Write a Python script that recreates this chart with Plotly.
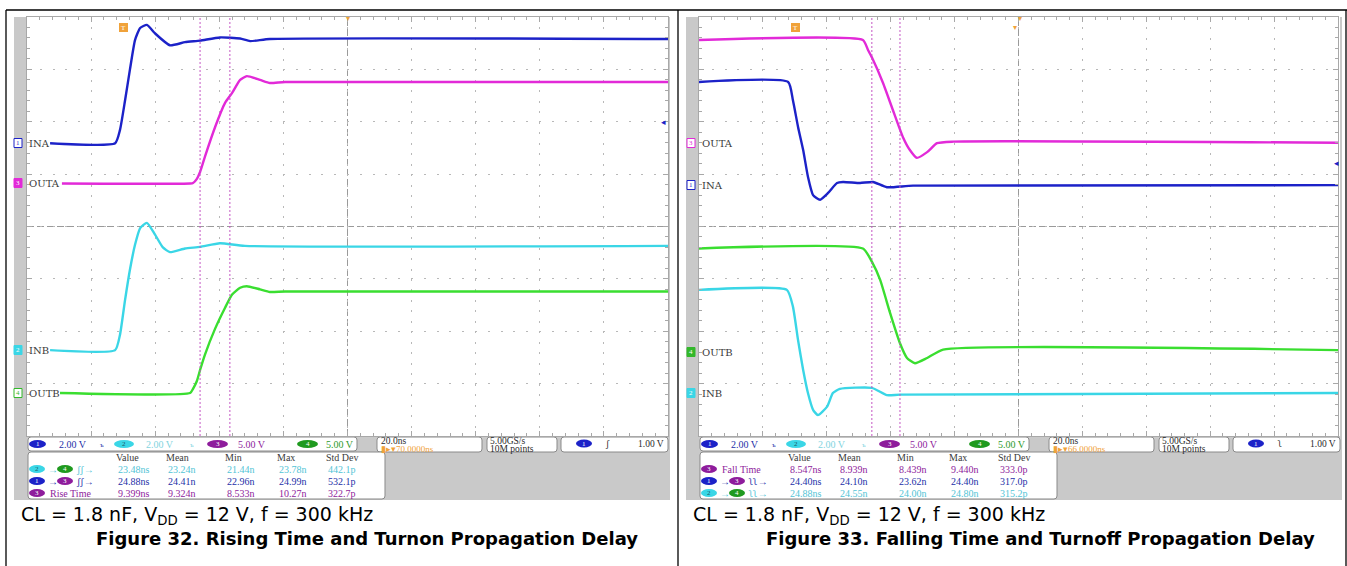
import plotly.graph_objects as go

W, H = 1347, 566

# ---------------------------------------------------------------------------
# Waveforms.
# time in ns relative to screen centre (20 ns/div), level in divisions
# ---------------------------------------------------------------------------
# Figure 32 - turn-on
F32_INA_T = [-92.8, -72.5, -71.0, -69.4, -67.9, -66.3, -64.7, -62.6, -60.1, -55.4, -50.7, -46.0, -39.8, -33.5, -30.4, -24.2, 100]
F32_INA_V = [1.59, 1.59, 1.84, 2.41, 2.99, 3.56, 3.79, 3.85, 3.69, 3.46, 3.52, 3.55, 3.61, 3.59, 3.54, 3.58, 3.58]

F32_OUTA_T = [-89.1, -49.1, -48.2, -47.0, -46.0, -44.5, -41.3, -38.2, -36.0, -33.5, -31.4, -27.3, -24.2, -19.5, 100]
F32_OUTA_V = [0.82, 0.82, 0.83, 0.91, 1.04, 1.33, 1.90, 2.36, 2.55, 2.80, 2.87, 2.80, 2.74, 2.76, 2.76]

F32_INB_T = [-92.8, -72.5, -71.0, -69.4, -67.9, -66.3, -64.7, -62.6, -60.1, -57.6, -55.4, -50.7, -46.0, -39.8, -32.0, 100]
F32_INB_V = [-2.36, -2.36, -2.07, -1.40, -0.83, -0.35, -0.03, 0.07, -0.15, -0.40, -0.49, -0.42, -0.39, -0.32, -0.37, -0.37]

F32_OUTB_T = [-89.7, -49.1, -48.2, -47.0, -46.0, -44.5, -41.3, -38.2, -36.0, -33.5, -31.4, -27.3, -24.2, -19.5, 100]
F32_OUTB_V = [-3.18, -3.18, -3.10, -2.95, -2.74, -2.45, -1.95, -1.55, -1.30, -1.17, -1.14, -1.20, -1.25, -1.24, -1.24]

F32_CURSORS = [-46.0, -36.7]

# Figure 33 - turn-off
F33_OUTA_T = [-100, -48.7, -47.1, -45.9, -42.4, -39.3, -36.2, -34.0, -31.8, -28.6, -25.5, -20.5, 100]
F33_OUTA_V = [3.56, 3.56, 3.37, 3.23, 2.74, 2.22, 1.71, 1.46, 1.31, 1.42, 1.59, 1.62, 1.60]

F33_INA_T = [-100, -72.1, -70.6, -69.0, -67.4, -65.9, -64.3, -62.1, -59.6, -56.8, -54.9, -49.6, -45.5, -41.2, -33.0, 100]
F33_INA_V = [2.76, 2.76, 2.41, 1.90, 1.46, 0.95, 0.60, 0.51, 0.64, 0.83, 0.85, 0.83, 0.85, 0.75, 0.78, 0.79]

F33_OUTB_T = [-100, -48.7, -45.9, -43.3, -40.2, -37.1, -34.9, -32.4, -28.6, -23.6, 100]
F33_OUTB_V = [-0.42, -0.42, -0.67, -1.02, -1.65, -2.23, -2.51, -2.61, -2.51, -2.35, -2.36]

F33_INB_T = [-100, -72.5, -70.6, -69.0, -67.4, -65.9, -64.3, -62.8, -59.9, -58.1, -55.9, -45.9, -41.2, -37.1, 100]
F33_INB_V = [-1.21, -1.21, -1.53, -2.17, -2.74, -3.18, -3.50, -3.60, -3.44, -3.18, -3.10, -3.08, -3.22, -3.21, -3.18]

F33_CURSORS = [-45.9, -37.1]

# measurement tables
TABLE_HEAD = ["Value", "Mean", "Min", "Max", "Std Dev"]
F32_ROWS = [
    ["23.48ns", "23.24n", "21.44n", "23.78n", "442.1p"],
    ["24.88ns", "24.41n", "22.96n", "24.99n", "532.1p"],
    ["9.399ns", "9.324n", "8.533n", "10.27n", "322.7p"],
]
F33_ROWS = [
    ["8.547ns", "8.939n", "8.439n", "9.440n", "333.0p"],
    ["24.40ns", "24.10n", "23.62n", "24.40n", "317.0p"],
    ["24.88ns", "24.55n", "24.00n", "24.80n", "315.2p"],
]

# colours
C_BLUE = "#1c22c8"
C_MAG = "#e22ad8"
C_CYAN = "#3ad6e6"
C_GREEN = "#3ade30"
C_PURPLE = "#8e1c9c"
C_TBLUE = "#2430a8"
C_TCYAN = "#52c4d6"
C_TGREEN = "#2c9a2c"
C_ORANGE = "#f0a23a"
C_GRAY = "#c9c9c9"

SCOPE_FONT = "Liberation Serif, serif"
LABEL_FONT = "DejaVu Serif, serif"
CAP_FONT = "DejaVu Sans, sans-serif"

shapes = []
annotations = []


def px(x):
    return x / W


def py(y):
    return 1 - y / H


def txt(x, y, s, size=9, color="#3a3a3a", family=SCOPE_FONT, anchor="left"):
    annotations.append(dict(
        x=px(x), y=py(y), xref="paper", yref="paper", text=s, showarrow=False,
        xanchor=anchor, yanchor="middle", borderpad=0,
        font=dict(size=size, color=color, family=family),
    ))


def rect(x0, y0, x1, y1, fill, line=None, layer="below"):
    shapes.append(dict(
        type="rect", xref="paper", yref="paper",
        x0=px(x0), x1=px(x1), y0=py(y1), y1=py(y0),
        fillcolor=fill, line=dict(color=line or fill, width=1 if line else 0), layer=layer,
    ))


def rbox(x0, y0, x1, y1, r=3, fill="white", line="#8a8a8a"):
    def p(x, y):
        return f"{px(x):.6f},{py(y):.6f}"
    path = (f"M{p(x0 + r, y0)} L{p(x1 - r, y0)} Q{p(x1, y0)} {p(x1, y0 + r)} "
            f"L{p(x1, y1 - r)} Q{p(x1, y1)} {p(x1 - r, y1)} L{p(x0 + r, y1)} "
            f"Q{p(x0, y1)} {p(x0, y1 - r)} L{p(x0, y0 + r)} Q{p(x0, y0)} {p(x0 + r, y0)} Z")
    shapes.append(dict(type="path", xref="paper", yref="paper", path=path,
                       fillcolor=fill, line=dict(color=line, width=1), layer="below"))


def oval(x0, x1, yc, fill, label, h=8, lcolor="white"):
    shapes.append(dict(type="circle", xref="paper", yref="paper",
                       x0=px(x0), x1=px(x1), y0=py(yc + h / 2), y1=py(yc - h / 2),
                       fillcolor=fill, line=dict(width=0), layer="above"))
    txt((x0 + x1) / 2, yc, label, 7, lcolor, anchor="center")


def hline(x0, x1, y, color="black", width=1.3):
    shapes.append(dict(type="line", xref="paper", yref="paper", x0=px(x0), x1=px(x1),
                       y0=py(y), y1=py(y), line=dict(color=color, width=width)))


def vline(x, y0, y1, color="black", width=1.3):
    shapes.append(dict(type="line", xref="paper", yref="paper", x0=px(x), x1=px(x),
                       y0=py(y0), y1=py(y1), line=dict(color=color, width=width)))


def ch_label(x, y, num, name, color, filled):
    rect(x, y - 4.5, x + 8, y + 4.5, color if filled else "white", color, layer="above")
    txt(x + 4, y, num, 7, "white" if filled else color, anchor="center")
    txt(x + 14, y, name, 10, "#3a3a3a", LABEL_FONT)


def chrome(ox, rows, row_icons, row_colors, delay, trig_sym, cap_fig, cap_x):
    # scope frame
    rect(ox + 14, 17, ox + 670, 500, C_GRAY)
    rect(ox + 27, 17, ox + 668, 436, "white")
    # channel row
    rbox(ox + 28, 437, ox + 357, 451)
    oval(ox + 29, ox + 46, 444, C_BLUE, "1")
    txt(ox + 58, 444, "2.00 V", 10, C_TBLUE)
    txt(ox + 99, 445, "ъ", 7, C_TBLUE)
    oval(ox + 114, ox + 134, 444, C_CYAN, "2", lcolor="#1a5c66")
    txt(ox + 145, 444, "2.00 V", 10, "#7fd4e0")
    txt(ox + 189, 445, "ъ", 7, "#7fd4e0")
    oval(ox + 207, ox + 228, 444, C_PURPLE, "3")
    txt(ox + 237, 444, "5.00 V", 10, C_PURPLE)
    oval(ox + 297, ox + 318, 444, "#1f9a1f", "4")
    txt(ox + 325, 444, "5.00 V", 10, C_TGREEN)
    # timebase / acquisition / trigger boxes
    rbox(ox + 377, 437, ox + 482, 452)
    txt(ox + 380, 441, "20.0ns", 9.5, "#2a2a2a")
    txt(ox + 380, 449, "▮▸▾" + delay, 9, C_ORANGE)
    rbox(ox + 487, 437, ox + 557, 452)
    txt(ox + 489, 441, "5.00GS/s", 9.5, "#2a2a2a")
    txt(ox + 489, 449, "10M points", 9.5, "#2a2a2a")
    rbox(ox + 561, 437, ox + 668, 452)
    oval(ox + 576, ox + 592, 443.5, C_BLUE, "1")
    txt(ox + 604, 444, trig_sym, 9.5, "#2a2a2a")
    txt(ox + 665, 444, "1.00 V", 9.5, "#2a2a2a", anchor="right")
    # measurement table
    rbox(ox + 28, 452, ox + 385, 499)
    cols = [115, 165, 224, 276, 325]
    for c, head in zip(cols, TABLE_HEAD):
        txt(ox + c, 457.5, head, 10, "#3a3a3a")
    for i, (vals, icons, color) in enumerate(zip(rows, row_icons, row_colors)):
        yy = 469 + 12 * i
        for kind, a, b in icons:
            if kind == "o":
                oval(ox + a, ox + a + 16, yy, b[0], b[1], lcolor=b[2])
            else:
                txt(ox + a, yy, b, 10, color)
        for c, v in zip(cols, vals):
            txt(ox + c + 2, yy, v, 10, color)
    # captions
    txt(ox + 20, 515.5, "CL = 1.8 nF, V<sub>DD</sub> = 12 V, f = 300 kHz", 19, "black", CAP_FONT)
    txt(cap_x, 538, "<b>" + cap_fig + "</b>", 18, "black", CAP_FONT)
    # trigger marker and centre marker
    rect(ox + 119, 23, ox + 128, 32, C_ORANGE, layer="above")
    txt(ox + 123.5, 27.5, "T", 7, "white", anchor="center")
    txt(ox + 347.5, 18.5, "▾", 8, C_ORANGE, anchor="center")


chrome(
    0, F32_ROWS,
    [
        [("o", 29, (C_CYAN, "2", "#1a5c66")), ("t", 47, "→"), ("o", 57, ("#1f9a1f", "4", "white")), ("t", 75, "ʃʃ→")],
        [("o", 29, (C_BLUE, "1", "white")), ("t", 47, "→"), ("o", 57, (C_PURPLE, "3", "white")), ("t", 75, "ʃʃ→")],
        [("o", 29, (C_PURPLE, "3", "white")), ("t", 49, "Rise Time")],
    ],
    [C_TCYAN, C_TBLUE, C_PURPLE],
    "70.0000ns", "ʃ",
    "Figure 32. Rising Time and Turnon Propagation Delay", 95,
)
chrome(
    672, F33_ROWS,
    [
        [("o", 29, (C_PURPLE, "3", "white")), ("t", 49, "Fall Time")],
        [("o", 29, (C_BLUE, "1", "white")), ("t", 47, "→"), ("o", 57, (C_PURPLE, "3", "white")), ("t", 75, "ʅʅ→")],
        [("o", 29, (C_CYAN, "2", "#1a5c66")), ("t", 47, "→"), ("o", 57, ("#1f9a1f", "4", "white")), ("t", 75, "ʅʅ→")],
    ],
    [C_PURPLE, C_TBLUE, C_TCYAN],
    "66.0000ns", "ʅ",
    "Figure 33. Falling Time and Turnoff Propagation Delay", 765,
)

# channel labels on the graticules
ch_label(14, 143, "1", "INA", C_BLUE, False)
ch_label(14, 183, "3", "OUTA", C_MAG, True)
ch_label(14, 350, "2", "INB", C_CYAN, True)
ch_label(14, 393, "4", "OUTB", "#32b82a", False)
ch_label(687, 143, "3", "OUTA", C_MAG, False)
ch_label(687, 185, "1", "INA", C_BLUE, False)
ch_label(687, 352, "4", "OUTB", "#32b82a", True)
ch_label(687, 393, "2", "INB", C_CYAN, True)

# ground offset arrows at the right edge
txt(663, 122, "◂", 9, C_BLUE, anchor="center")
txt(1336, 163, "◂", 9, C_BLUE, anchor="center")

# document frame
hline(6, 1347, 10)
vline(6, 10, 566)
vline(678, 10, 566)
vline(1346, 10, 566)

# ---------------------------------------------------------------------------
# Traces
# ---------------------------------------------------------------------------
fig = go.Figure()

panels = [
    ("x", "y", [(F32_INA_T, F32_INA_V, C_BLUE), (F32_OUTA_T, F32_OUTA_V, C_MAG),
                (F32_INB_T, F32_INB_V, C_CYAN), (F32_OUTB_T, F32_OUTB_V, C_GREEN)], F32_CURSORS),
    ("x2", "y2", [(F33_OUTA_T, F33_OUTA_V, C_MAG), (F33_INA_T, F33_INA_V, C_BLUE),
                  (F33_OUTB_T, F33_OUTB_V, C_GREEN), (F33_INB_T, F33_INB_V, C_CYAN)], F33_CURSORS),
]

for xa, ya, waves, cursors in panels:
    for t, v, color in waves:
        fig.add_trace(go.Scatter(
            x=t, y=v, xaxis=xa, yaxis=ya, mode="lines",
            line=dict(color=color, width=2.4, shape="spline", smoothing=0.5),
            hoverinfo="skip",
        ))
    yr_dom = ya + " domain"
    xr_dom = xa + " domain"
    # centre cross
    shapes.append(dict(type="line", xref=xa, yref=yr_dom, x0=0, x1=0, y0=0, y1=1,
                       line=dict(color="#9a9a9a", width=1, dash="7px,3px"), layer="below"))
    shapes.append(dict(type="line", xref=xr_dom, yref=ya, x0=0, x1=1, y0=0, y1=0,
                       line=dict(color="#9a9a9a", width=1, dash="7px,3px"), layer="below"))
    for c in cursors:
        shapes.append(dict(type="line", xref=xa, yref=yr_dom, x0=c, x1=c, y0=0, y1=1,
                           line=dict(color="#c455c4", width=1, dash="2px,2px"), layer="above"))

axis_common = dict(
    showgrid=True, gridcolor="#b8b8b8", gridwidth=1, zeroline=False,
    showticklabels=False, ticks="inside", ticklen=5, tickcolor="#a8a8a8",
    showline=True, linecolor="#a8a8a8", linewidth=1, mirror="ticks", fixedrange=True,
)
xdom1 = [px(27), px(668)]
xdom2 = [px(699), px(1338)]
ydom = [py(436), py(17)]
xminor = dict(ticks="inside", ticklen=3, dtick=4, tickcolor="#a8a8a8", showgrid=False)
yminor = dict(ticks="inside", ticklen=3, dtick=0.2, tickcolor="#a8a8a8", showgrid=False)

fig.update_layout(
    width=W, height=H,
    margin=dict(l=0, r=0, t=0, b=0),
    paper_bgcolor="white", plot_bgcolor="white",
    showlegend=False,
    xaxis=dict(domain=xdom1, range=[-100, 100], tick0=-100, dtick=20, griddash="2px,8.48px",
               minor=xminor, anchor="y", **axis_common),
    yaxis=dict(domain=ydom, range=[-4, 4], tick0=-4, dtick=1, griddash="2px,10.8px",
               minor=yminor, anchor="x", **axis_common),
    xaxis2=dict(domain=xdom2, range=[-100, 100], tick0=-100, dtick=20, griddash="2px,8.48px",
                minor=xminor, anchor="y2", **axis_common),
    yaxis2=dict(domain=ydom, range=[-4, 4], tick0=-4, dtick=1, griddash="2px,10.8px",
                minor=yminor, anchor="x2", **axis_common),
    shapes=shapes,
    annotations=annotations,
)

# right-panel centre marker
fig.add_annotation(x=px(1018.5), y=py(18.5), xref="paper", yref="paper", text="▾", showarrow=False,
                   font=dict(size=8, color=C_ORANGE))

fig.write_html(
    "out.html",
    config={"displayModeBar": False},
    post_script="document.body.style.margin='0px';document.body.style.overflow='hidden';",
)
